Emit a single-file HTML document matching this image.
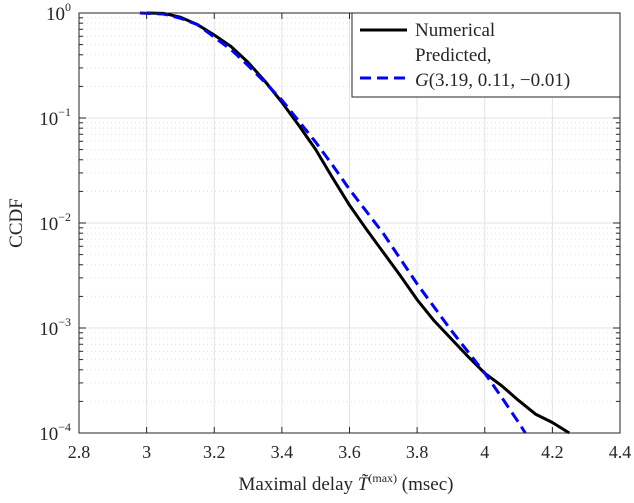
<!DOCTYPE html>
<html><head><meta charset="utf-8"><style>
body{margin:0;background:#fff}
text{font-family:"Liberation Serif",serif;fill:#262626}
</style></head><body>
<svg id="c" width="634" height="498" xmlns="http://www.w3.org/2000/svg">
<g id="grid"></g>
<g id="series"></g>
<g id="axes"></g>
<text x="346" y="490" text-anchor="middle" font-size="19">Maximal delay <tspan font-style="italic">T̃</tspan><tspan font-size="12" dy="-8">(max)</tspan><tspan dy="8"> (msec)</tspan></text>
<text transform="translate(22,223) rotate(-90)" text-anchor="middle" font-size="19">CCDF</text>
<g>
<rect x="352" y="13" width="268" height="84" fill="#fff" stroke="#262626" stroke-width="1"/>
<line x1="360" y1="30" x2="407" y2="30" stroke="#000" stroke-width="3"/>
<text x="415" y="36" font-size="19">Numerical</text>
<text x="415" y="61" font-size="19">Predicted,</text>
<line x1="360" y1="78" x2="407" y2="78" stroke="#0000ff" stroke-width="3" stroke-dasharray="11,6"/>
<text x="415" y="86" font-size="19"><tspan font-style="italic">G</tspan>(3.19, 0.11, −0.01)</text>
</g>
</svg>
<script>
const numX=[3.0,3.05,3.1,3.15,3.2,3.25,3.3,3.35,3.4,3.45,3.5,3.55,3.6,3.65,3.7,3.75,3.8,3.85,3.9,3.95,4.0,4.05,4.1,4.15,4.2,4.25];
const numY=[0,-0.003,-0.04,-0.11,-0.21,-0.32,-0.47,-0.65,-0.85,-1.07,-1.3,-1.57,-1.83,-2.06,-2.28,-2.5,-2.73,-2.93,-3.1,-3.27,-3.43,-3.55,-3.69,-3.82,-3.9,-4.0];
const predX=[2.98,3.05,3.1,3.15,3.2,3.25,3.3,3.35,3.4,3.45,3.5,3.55,3.6,3.65,3.7,3.8,3.9,4.0,4.05,4.1,4.12];
const predY=[0,-0.01,-0.05,-0.11,-0.23,-0.35,-0.5,-0.66,-0.83,-1.03,-1.23,-1.45,-1.68,-1.89,-2.1,-2.58,-3.02,-3.43,-3.66,-3.9,-4.0];
const xTicks=[2.8,3,3.2,3.4,3.6,3.8,4,4.2,4.4];
const yDecades=[0,-1,-2,-3,-4];
const L=79,R=620,T=13,B=433;
const sx=v=>L+(v-2.8)/1.6*(R-L);
const sy=v=>T+(0-v)/4*(B-T);
const NS="http://www.w3.org/2000/svg";
function mk(p,tag,a){const e=document.createElementNS(NS,tag);for(const k in a)e.setAttribute(k,a[k]);p.appendChild(e);return e;}
const g=document.getElementById('grid'),ax=document.getElementById('axes'),s=document.getElementById('series');
xTicks.forEach(v=>{const l=mk(g,'line',{x1:sx(v),x2:sx(v),y1:T,y2:B,stroke:'#e3e3e3'});

});
yDecades.forEach(d=>{const l=mk(g,'line',{x1:L,x2:R,y1:sy(d),y2:sy(d),stroke:'#e3e3e3'});


if(d>-4){for(let m=2;m<10;m++){const y=sy(d-1+Math.log10(m));const mm=mk(g,'line',{x1:L,x2:R,y1:y,y2:y,stroke:'#e0e0e0','stroke-dasharray':'1,3'});


mk(ax,'line',{x1:L,x2:L+4,y1:y,y2:y,stroke:'#262626'});mk(ax,'line',{x1:R,x2:R-4,y1:y,y2:y,stroke:'#262626'});}}
const t=mk(ax,'text',{x:L-8,y:sy(d)+7,'text-anchor':'end','font-size':19});t.innerHTML='10<tspan font-size="12" dy="-9">'+(d===0?'0':'−'+(-d))+'</tspan>';


mk(ax,'line',{x1:L,x2:L+7,y1:sy(d),y2:sy(d),stroke:'#262626'});mk(ax,'line',{x1:R,x2:R-7,y1:sy(d),y2:sy(d),stroke:'#262626'});});
xTicks.forEach(v=>{const t=mk(ax,'text',{x:sx(v),y:B+25,'text-anchor':'middle','font-size':18});t.textContent=String(v);


mk(ax,'line',{x1:sx(v),x2:sx(v),y1:B,y2:B-6,stroke:'#262626'});mk(ax,'line',{x1:sx(v),x2:sx(v),y1:T,y2:T+6,stroke:'#262626'});});
const fr=mk(ax,'rect',{x:L,y:T,width:R-L,height:B-T,fill:'none',stroke:'#262626'});


const pn=mk(s,'polyline',{points:numX.map((x,i)=>sx(x)+','+sy(numY[i])).join(' '),fill:'none',stroke:'#000','stroke-width':3,'stroke-linejoin':'round'});


const pp=mk(s,'polyline',{points:predX.map((x,i)=>sx(x)+','+sy(predY[i])).join(' '),fill:'none',stroke:'#0000ff','stroke-width':3,'stroke-dasharray':'11,6'});


</script>
</body></html>
